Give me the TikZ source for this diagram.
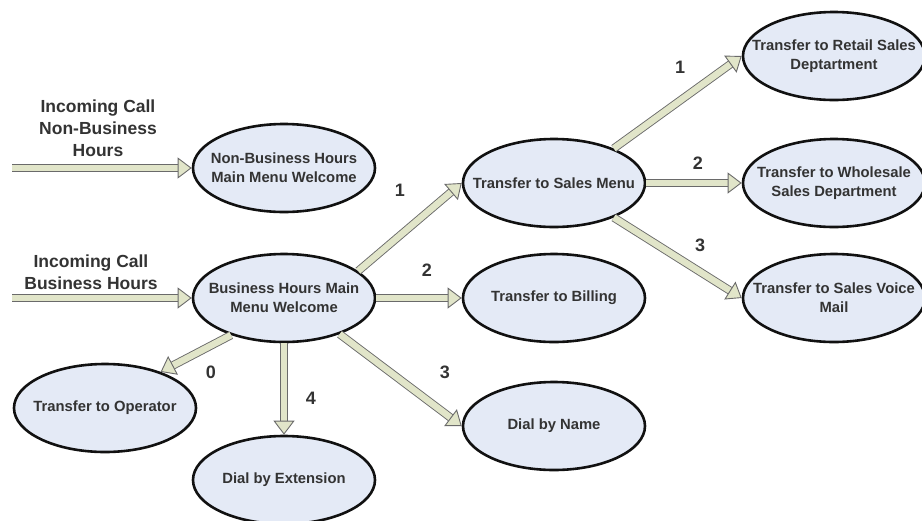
\documentclass[tikz,border=0pt]{standalone}
\usepackage{fontspec}
\setmainfont{Liberation Sans}
\usetikzlibrary{shapes.geometric, arrows.meta}
\definecolor{ovalfill}{HTML}{E4EAF6}
\definecolor{ovalline}{HTML}{111111}
\definecolor{arrowfill}{HTML}{E1E5C9}
\definecolor{arrowline}{HTML}{6A6A6A}
\definecolor{txt}{HTML}{333333}

\begin{document}
\begin{tikzpicture}[
  x=1pt, y=-1pt,
  every node/.style={font=\fontsize{14.8}{19}\selectfont\bfseries, text=txt},
  oval/.style={ellipse, draw=ovalline, fill=ovalfill, line width=2.6pt,
               minimum width=182pt, minimum height=88pt,
               inner xsep=-25pt, inner ysep=0pt, align=center},
  flow/.style={draw=arrowline, line width=0.9pt, double=arrowfill,
               double distance=6.5pt,
               -{Triangle[open, fill=arrowfill, length=14pt, width=21pt, line width=0.9pt]}},
  num/.style={font=\fontsize{18}{20}\selectfont\bfseries},
  incoming/.style={font=\fontsize{17.5}{22}\selectfont\bfseries, align=center}
]
\useasboundingbox (0,0) rectangle (922,520);
% Welcome menus
\node[oval] (nbwelcome) at (284,168) {Non-Business Hours\\Main Menu Welcome};
\node[oval] (bhwelcome) at (284,298) {Business Hours Main\\Menu Welcome};
% Business hours options
\node[oval] (sales)    at (554,183) {Transfer to Sales Menu};
\node[oval] (billing)  at (554,298) {Transfer to Billing};
\node[oval] (byname)   at (554,426) {Dial by Name};
\node[oval] (operator) at (105,408) {Transfer to Operator};
\node[oval] (byext)    at (284,480) {Dial by Extension};
% Sales options
\node[oval] (retail)    at (834,56)  {Transfer to Retail Sales\\Deptartment};
\node[oval] (wholesale) at (834,183) {Transfer to Wholesale\\Sales Department};
\node[oval] (voicemail) at (834,298) {Transfer to Sales Voice\\Mail};
% Incoming calls
\node[incoming] (nblabel) at (98,128) {Incoming Call\\Non-Business\\Hours};
\node[incoming] (bhlabel) at (91,272) {Incoming Call\\Business Hours};
\coordinate (nbcall) at (12,168);
\coordinate (bhcall) at (12,298);
% Arrows
\draw[flow] (nbcall) -- (nbwelcome.west);
\draw[flow] (bhcall) -- (bhwelcome.west);
\draw[flow] (bhwelcome.20)  -- (sales.west);
\draw[flow] (bhwelcome.east) -- (billing.west);
\draw[flow] (bhwelcome.-33) -- (byname.west);
\draw[flow] (bhwelcome.215) -- (operator.33);
\draw[flow] (bhwelcome.south) -- (byext.north);
\draw[flow] (sales.30)  -- (retail.west);
\draw[flow] (sales.east) -- (wholesale.west);
\draw[flow] (sales.-30) -- (voicemail.west);
% Key labels
\node[num] (k1) at (400,190) {1};
\node[num] (k2) at (427,270) {2};
\node[num] (k3) at (445,372) {3};
\node[num] (k0) at (211,372) {0};
\node[num] (k4) at (311,398) {4};
\node[num] (s1) at (680,67)  {1};
\node[num] (s2) at (698,163) {2};
\node[num] (s3) at (700,245) {3};
\end{tikzpicture}
\end{document}
